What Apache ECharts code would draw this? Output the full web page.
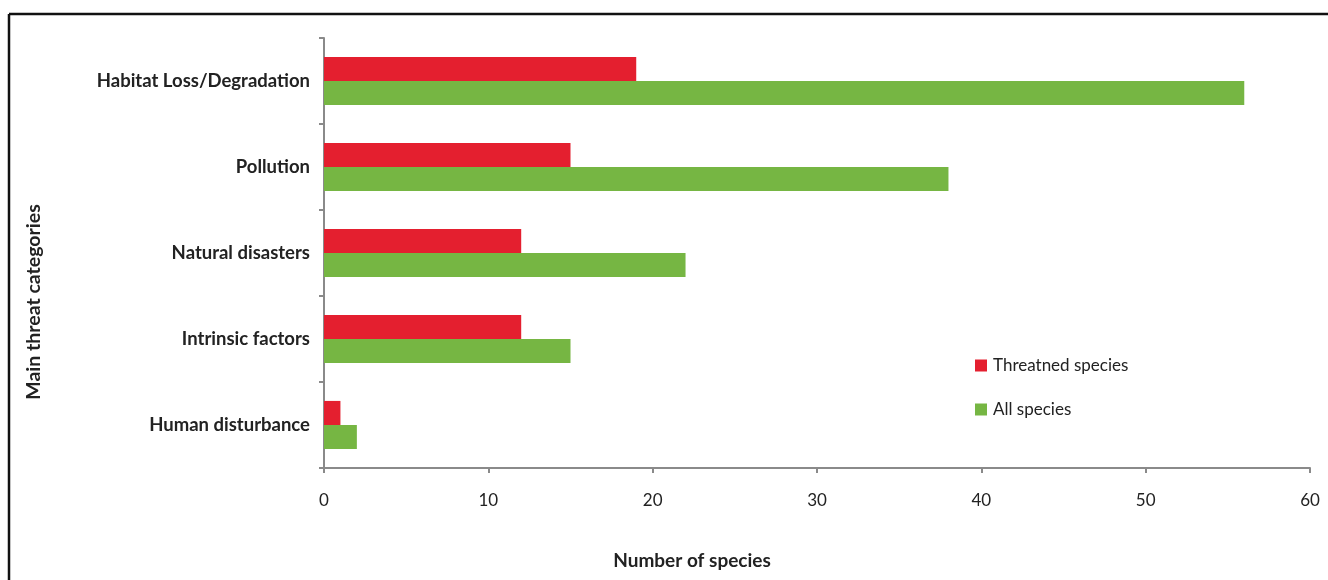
<!DOCTYPE html>
<html>
<head>
<meta charset="utf-8">
<style>html,body{margin:0;padding:0;background:#fff;}#c{width:1328px;height:580px;}</style>
<script src="https://cdn.jsdelivr.net/npm/echarts@6/dist/echarts.min.js"></script>
</head>
<body>
<div id="c"></div>
<script>
var categories = ["Habitat Loss/Degradation", "Pollution", "Natural disasters", "Intrinsic factors", "Human disturbance"];
var threatened = [19, 15, 12, 12, 1];
var allSpecies = [56, 38, 22, 15, 2];
var seriesNames = ["Threatned species", "All species"];
var xTicks = {min: 0, max: 60, interval: 10};

var FONT = "Lato, 'Open Sans', sans-serif";
var axisGray = "#8a8a8a";
var chart = echarts.init(document.getElementById('c'), null, {renderer: 'canvas'});
chart.setOption({
  backgroundColor: '#fff',
  animation: false,
  grid: {left: 324, right: 18, top: 38, bottom: 112, containLabel: false},
  legend: {
    data: seriesNames,
    orient: 'vertical',
    left: 970, top: 352,
    itemWidth: 12, itemHeight: 12, itemGap: 27,
    icon: 'rect',
    textStyle: {fontFamily: FONT, fontSize: 17, color: '#222', padding: [0, 0, 0, 1]}
  },
  xAxis: {
    type: 'value', min: xTicks.min, max: xTicks.max, interval: xTicks.interval,
    splitLine: {show: false},
    axisLine: {show: true, lineStyle: {color: axisGray, width: 2}},
    axisTick: {show: true, length: 5, lineStyle: {color: axisGray, width: 2}},
    axisLabel: {fontFamily: FONT, fontSize: 17, color: '#222', margin: 24}
  },
  yAxis: {
    type: 'category', data: categories, inverse: true,
    axisLine: {show: true, lineStyle: {color: axisGray, width: 2}},
    axisTick: {show: true, length: 5, lineStyle: {color: axisGray, width: 2}},
    axisLabel: {fontFamily: FONT, fontSize: 18.5, fontWeight: 'bold', color: '#222', margin: 14}
  },
  series: [
    {name: seriesNames[0], type: 'bar', data: threatened, itemStyle: {color: '#E41F2F'}, barGap: '0%', barCategoryGap: '44%'},
    {name: seriesNames[1], type: 'bar', data: allSpecies, itemStyle: {color: '#76B643'}, barGap: '0%', barCategoryGap: '44%'}
  ],
  graphic: [
    {type: 'line', shape: {x1: 9, y1: 14, x2: 1328, y2: 14}, style: {stroke: '#111', lineWidth: 2.5}},
    {type: 'line', shape: {x1: 9, y1: 14, x2: 9, y2: 580}, style: {stroke: '#111', lineWidth: 2.5}},
    {type: 'text', x: 34, y: 302, rotation: Math.PI / 2,
      style: {text: 'Main threat categories', fontFamily: FONT, fontSize: 19.5, fontWeight: 'bold', fill: '#222', textAlign: 'center', textVerticalAlign: 'middle'}},
    {type: 'text', x: 692, y: 561,
      style: {text: 'Number of species', fontFamily: FONT, fontSize: 19, fontWeight: 'bold', fill: '#222', textAlign: 'center', textVerticalAlign: 'middle'}}
  ]
});
</script>
</body>
</html>
